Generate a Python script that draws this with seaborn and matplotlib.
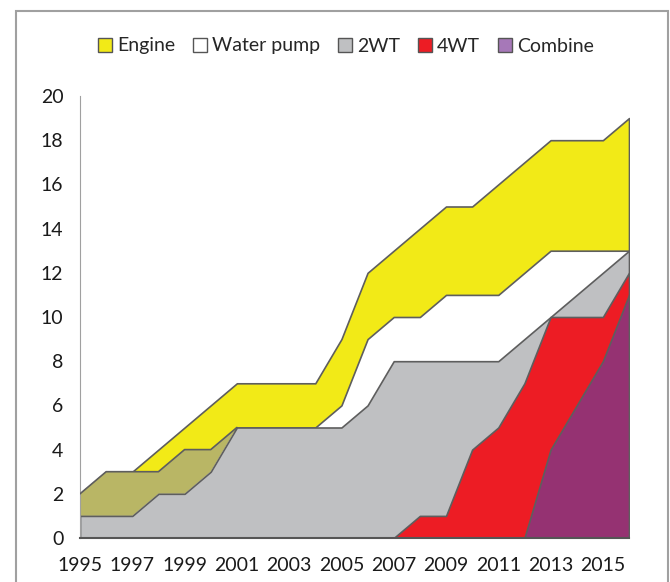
import numpy as np
import seaborn as sns
import matplotlib.pyplot as plt
from matplotlib.patches import Patch, Rectangle

years = np.arange(1995, 2017)
engine = [2, 3, 3, 4, 5, 6, 7, 7, 7, 7, 9, 12, 13, 14, 15, 15, 16, 17, 18, 18, 18, 19]
water_pump = [2, 3, 3, 3, 4, 4, 5, 5, 5, 5, 6, 9, 10, 10, 11, 11, 11, 12, 13, 13, 13, 13]
two_wt = [1, 1, 1, 2, 2, 3, 5, 5, 5, 5, 5, 6, 8, 8, 8, 8, 8, 9, 10, 11, 12, 13]
four_wt = [0, 0, 0, 0, 0, 0, 0, 0, 0, 0, 0, 0, 0, 1, 1, 4, 5, 7, 10, 10, 10, 12]
combine = [0, 0, 0, 0, 0, 0, 0, 0, 0, 0, 0, 0, 0, 0, 0, 0, 0, 0, 4, 6, 8, 11]

labels = ["Engine", "Water pump", "2WT", "4WT", "Combine"]
colors = ["#F2EA17", "#FFFFFF", "#BFC0C2", "#ED1C24", "#953272"]
legend_fc = ["#F2EA17", "#FFFFFF", "#BFC0C2", "#ED1C24", "#A678B8"]
series = [engine, water_pump, two_wt, four_wt, combine]

sns.set_style("white")
plt.rcParams["font.family"] = ["Lato", "DejaVu Sans"]

fig = plt.figure(figsize=(6.7, 5.82), dpi=100)
ax = fig.add_axes([80 / 670, 1 - 538 / 582, 549 / 670, 442 / 582])

for vals, col in zip(series, colors):
    ax.fill_between(years, 0, vals, facecolor=col, edgecolor="#5E5E5E", linewidth=1.2, zorder=2)
    if col == "#FFFFFF":
        # early years of the water pump band appear olive
        early = years <= 2001
        ax.fill_between(years, two_wt, water_pump, where=early, facecolor="#B9B665",
                        edgecolor="none", zorder=2)
        sns.lineplot(x=years[early], y=np.array(water_pump)[early], ax=ax,
                     color="#5E5E5E", linewidth=1.2, zorder=3)

ax.set_xlim(1995, 2016)
ax.set_ylim(0, 20)
ax.set_yticks(range(0, 21, 2))
ax.set_xticks(years, minor=True)
ax.set_xticks(range(1995, 2016, 2))
ax.tick_params(axis="both", which="both", direction="out", color="#A0A0A0",
               labelsize=14, labelcolor="#1A1A1A", length=5, width=1)
ax.tick_params(axis="x", which="major", pad=9)
ax.tick_params(axis="y", pad=7)
ax.tick_params(axis="x", which="minor", length=5)
for side in ["top", "right"]:
    ax.spines[side].set_visible(False)
ax.spines["left"].set_color("#A0A0A0")
ax.spines["bottom"].set_color("#555555")
ax.spines["bottom"].set_linewidth(1.5)

handles = [Patch(facecolor=fc, edgecolor="#555555", linewidth=1) for fc in legend_fc]
fig.legend(handles, labels, loc="center", bbox_to_anchor=(346 / 670, 1 - 46 / 582), ncol=5,
           frameon=False, fontsize=14, handlelength=0.7, handleheight=0.7,
           handletextpad=0.25, columnspacing=0.95)

fig.patches.append(Rectangle((16 / 670, -0.1), (668 - 16) / 670, 1.1 - 11 / 582,
                             transform=fig.transFigure, fill=False,
                             edgecolor="#A0A0A0", linewidth=1.5))

fig.savefig("out.png", dpi=100)
